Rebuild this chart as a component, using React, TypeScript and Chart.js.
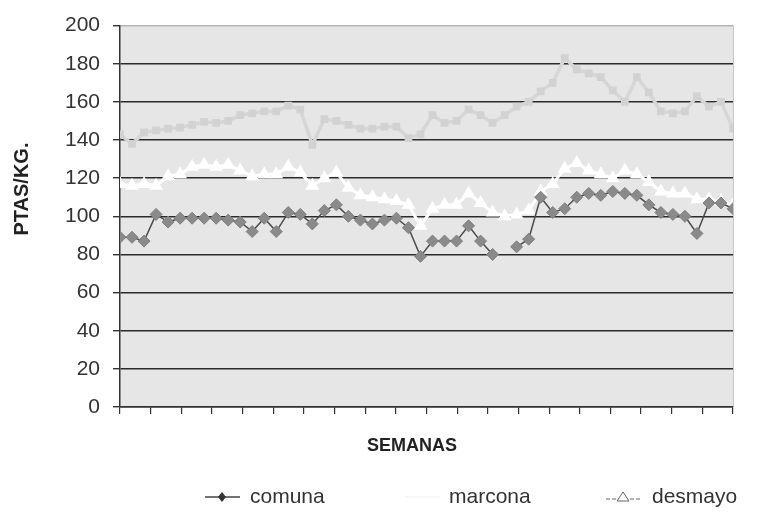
import React, { useEffect, useRef } from "react";
import { Chart, registerables } from "chart.js";

Chart.register(...registerables);

const weeks = [
  1, 2, 3, 4, 5, 6, 7, 8, 9, 10, 11, 12, 13, 14, 15, 16, 17, 18, 19, 20, 21, 22, 23, 24, 25, 26,
  27, 28, 29, 30, 31, 32, 33, 34, 35, 36, 37, 38, 39, 40, 41, 42, 43, 44, 45, 46, 47, 48, 49, 50, 51, 52,
];

const comuna = [
  89, 89, 87, 101, 97, 99, 99, 99, 99, 98, 97, 92, 99, 92, 102, 101, 96, 103, 106, 100, 98, 96, 98, 99, 94, 79,
  87, 87, 87, 95, 87, 80, null, 84, 88, 110, 102, 104, 110, 112, 111, 113, 112, 111, 106, 102, 101, 100, 91, 107, 107, 104,
];

const marcona = [
  143, 138, 144, 145, 146, 146.5, 148, 149.5, 149, 150, 153, 154, 155, 155, 158, 156, 137.5, 151, 150, 148, 146, 146, 147, 147, 141, 143,
  153, 149, 150, 156, 153, 149, 153, 157.5, 160, 165.5, 170, 183, 177, 175, 173, 166, 160, 173, 165, 155, 154, 155, 163, 157.5, 160, 146,
];

const desmayo = [
  117, 116, 117, 116, 121, 122, 126, 127, 126, 127, 124, 121, 122, 122, 126, 123, 116, 120, 123, 115, 111, 110, 109, 108, 106, 95,
  104, 106, 106, 112, 107, 102, 100, 101, 103, 113, 117, 125, 128, 124, 122, 120, 124, 122, 118, 113, 112, 112, 109, 109, 108, 106,
];

const seriesNames = ["comuna", "marcona", "desmayo"];
const yTitle = "PTAS/KG.";
const xTitle = "SEMANAS";

const FONT = '"Liberation Sans", Arial, sans-serif';

export default function App() {
  const ref = useRef<HTMLCanvasElement>(null);

  useEffect(() => {
    document.body.style.margin = "0";
    const toPts = (vals: (number | null)[]) => vals.map((v, i) => ({ x: weeks[i], y: v }));

    const bgPlugin = {
      id: "plotBg",
      beforeDraw(chart: any) {
        const { ctx, chartArea: a } = chart;
        ctx.save();
        ctx.fillStyle = "#e6e6e6";
        ctx.fillRect(a.left, a.top, a.right - a.left, a.bottom - a.top);
        ctx.strokeStyle = "#c8c8c8";
        ctx.lineWidth = 1;
        ctx.beginPath();
        ctx.moveTo(a.right + 0.5, a.top);
        ctx.lineTo(a.right + 0.5, a.bottom);
        ctx.stroke();
        ctx.restore();
      },
    };

    const textPlugin = {
      id: "texts",
      afterDraw(chart: any) {
        const { ctx } = chart;
        ctx.save();
        ctx.fillStyle = "#222";
        // y title
        ctx.font = `bold 20px ${FONT}`;
        ctx.textAlign = "center";
        ctx.textBaseline = "middle";
        ctx.save();
        ctx.translate(22, 189);
        ctx.rotate(-Math.PI / 2);
        ctx.fillText(yTitle, 0, 0);
        ctx.restore();
        // x title
        ctx.font = `bold 18px ${FONT}`;
        ctx.fillText(xTitle, 412, 446);

        // legend
        const ly = 497;
        ctx.font = `21px ${FONT}`;
        ctx.textAlign = "left";
        // comuna
        ctx.strokeStyle = "#444";
        ctx.lineWidth = 1.5;
        ctx.beginPath();
        ctx.moveTo(205, ly);
        ctx.lineTo(240, ly);
        ctx.stroke();
        ctx.fillStyle = "#333";
        ctx.beginPath();
        ctx.moveTo(222, ly - 5);
        ctx.lineTo(226, ly);
        ctx.lineTo(222, ly + 5);
        ctx.lineTo(218, ly);
        ctx.closePath();
        ctx.fill();
        ctx.fillStyle = "#333";
        ctx.fillText(seriesNames[0], 250, ly);
        // marcona (marker nearly invisible on white)
        ctx.strokeStyle = "#f4f4f4";
        ctx.beginPath();
        ctx.moveTo(405, ly);
        ctx.lineTo(440, ly);
        ctx.stroke();
        ctx.fillText(seriesNames[1], 449, ly);
        // desmayo
        ctx.strokeStyle = "#666";
        ctx.lineWidth = 1;
        ctx.setLineDash([4, 2]);
        ctx.beginPath();
        ctx.moveTo(606, ly + 2);
        ctx.lineTo(640, ly + 2);
        ctx.stroke();
        ctx.setLineDash([]);
        ctx.fillStyle = "#fff";
        ctx.beginPath();
        ctx.moveTo(623, ly - 5);
        ctx.lineTo(629, ly + 4);
        ctx.lineTo(617, ly + 4);
        ctx.closePath();
        ctx.fill();
        ctx.stroke();
        ctx.fillStyle = "#333";
        ctx.fillText(seriesNames[2], 652, ly);
        ctx.restore();
      },
    };

    const chart = new Chart(ref.current!, {
      type: "line",
      data: {
        datasets: [
          {
            label: seriesNames[0],
            data: toPts(comuna) as any,
            borderColor: "#4a4a4a",
            borderWidth: 1.5,
            pointStyle: "rectRot",
            pointRadius: 6,
            pointBackgroundColor: "#8a8a8a",
            pointBorderColor: "#808080",
            pointBorderWidth: 1,
            spanGaps: false,
          },
          {
            label: seriesNames[1],
            data: toPts(marcona) as any,
            borderColor: "#d6d6d6",
            borderWidth: 3.5,
            pointStyle: "rect",
            pointRadius: 3,
            pointBackgroundColor: "#d2d2d2",
            pointBorderColor: "#d2d2d2",
          },
          {
            label: seriesNames[2],
            data: toPts(desmayo) as any,
            borderColor: "#ffffff",
            borderWidth: 3,
            pointStyle: "triangle",
            pointRadius: 5,
            pointBackgroundColor: "#ffffff",
            pointBorderColor: "#ffffff",
          },
        ],
      },
      options: {
        animation: false,
        responsive: false,
        devicePixelRatio: 1,
        layout: { padding: { left: 0, right: 26, top: 23, bottom: 0 } },
        plugins: { legend: { display: false }, tooltip: { enabled: false } },
        scales: {
          x: {
            type: "linear",
            min: weeks[0],
            max: weeks[weeks.length - 1],
            afterBuildTicks: (s: any) => {
              const n = 20;
              const lo = weeks[0];
              const hi = weeks[weeks.length - 1];
              s.ticks = Array.from({ length: n + 1 }, (_, k) => ({ value: lo + (k * (hi - lo)) / n }));
            },
            ticks: { display: false },
            grid: { drawOnChartArea: false, drawTicks: true, tickLength: 7, color: "#333", lineWidth: 1.2 },
            border: { color: "#333", width: 1.5 },
            afterFit: (s: any) => {
              s.height = 116;
            },
          },
          y: {
            min: 0,
            max: 200,
            ticks: {
              stepSize: 20,
              padding: 13,
              color: "#333",
              font: { family: FONT, size: 21 },
            },
            grid: {
              color: (c: any) => (c.tick && c.tick.value === 200 ? "#b5b5b5" : "#2a2a2a"),
              lineWidth: 1.4,
              drawTicks: true,
              tickLength: 7,
              tickColor: "#333",
            },
            border: { color: "#333", width: 1.5 },
            afterFit: (s: any) => {
              s.width = 120;
            },
          },
        },
      },
      plugins: [bgPlugin, textPlugin],
    });
    return () => chart.destroy();
  }, []);

  return (
    <div style={{ width: 759, height: 523 }}>
      <canvas ref={ref} width={759} height={523} style={{ display: "block" }} />
    </div>
  );
}
